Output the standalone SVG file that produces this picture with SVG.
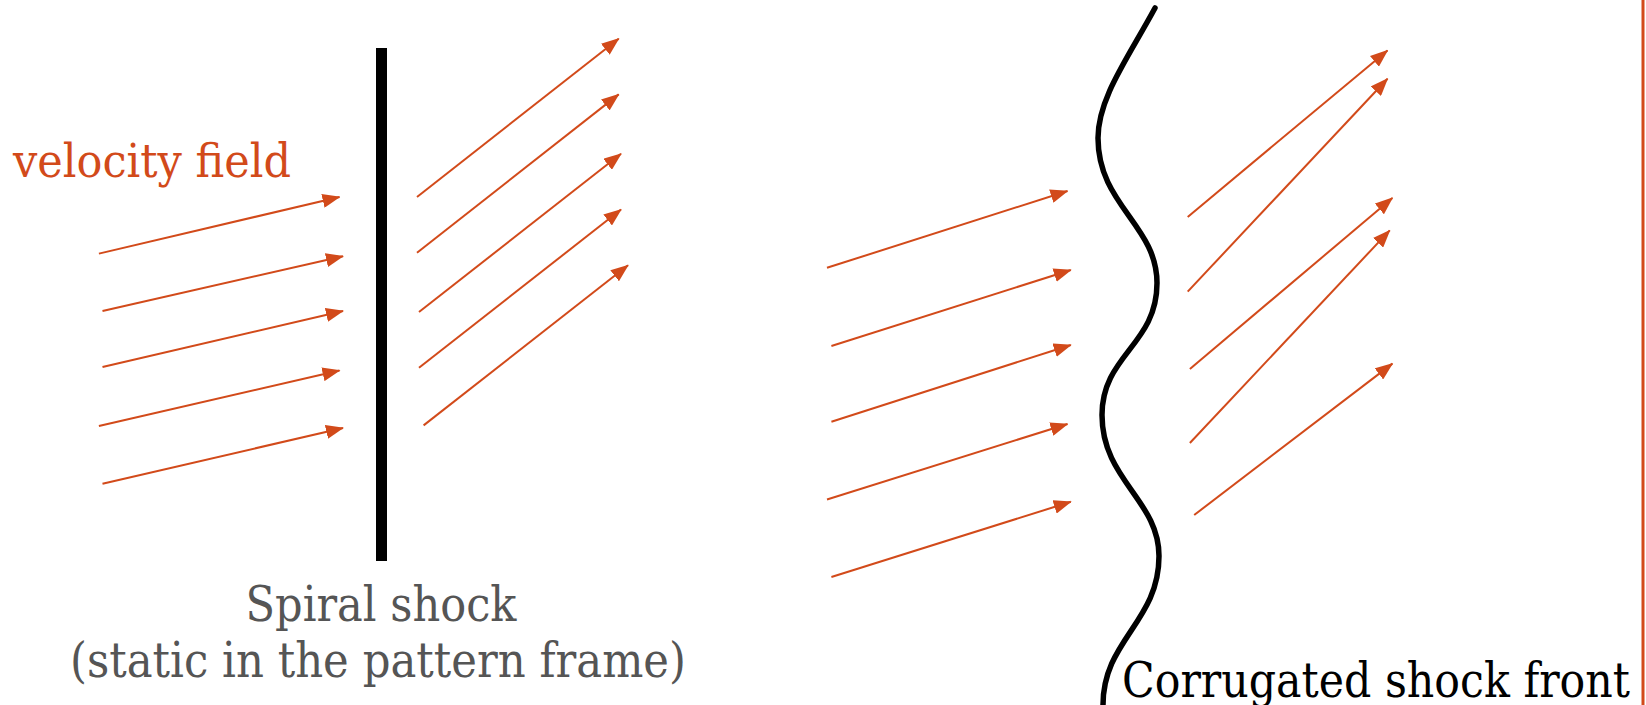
<svg xmlns="http://www.w3.org/2000/svg" width="1646" height="705" viewBox="0 0 1646 705">
<style>
.arr{stroke:#D24A1A;stroke-width:2;fill:none;marker-end:url(#ah)}
text{font-family:"DejaVu Serif","Liberation Serif",serif}
</style>
<defs>
<marker id="ah" markerUnits="userSpaceOnUse" markerWidth="18" markerHeight="14" refX="17" refY="7" orient="auto">
<path d="M0,0 L18,7 L0,14 z" fill="#D24A1A"/>
</marker>
</defs>
<rect width="1646" height="705" fill="#fff"/>
<rect x="1641.5" y="0" width="3" height="705" fill="#D24A1A"/>
<g id="label-velocity"><text x="13" y="177" font-size="46" fill="#D24A1A" textLength="278" lengthAdjust="spacingAndGlyphs">velocity field</text></g>
<g id="spiral-shock">
<rect x="376" y="48" width="11" height="513" fill="#000"/>
<text x="381" y="621" font-size="48" fill="#555" text-anchor="middle" textLength="271" lengthAdjust="spacingAndGlyphs">Spiral shock</text>
<text x="378" y="677" font-size="48" fill="#555" text-anchor="middle" textLength="616" lengthAdjust="spacingAndGlyphs">(static in the pattern frame)</text>
</g>
<g id="corrugated-shock">
<path d="M1155,8 C1128,58 1098,98 1098,138 C1098,205 1157,225 1157,283 C1157,345 1102,355 1102,415 C1102,480 1159,500 1159,556 C1159,622 1103,640 1103,705" fill="none" stroke="#000" stroke-width="5.5" stroke-linecap="round"/>
<text x="1122" y="697" font-size="48" fill="#000" textLength="508" lengthAdjust="spacingAndGlyphs">Corrugated shock front</text>
</g>
<g id="connectors">
<line class="arr" x1="98.9" y1="253.6" x2="339.5" y2="197"/>
<line class="arr" x1="102.5" y1="311" x2="343" y2="256.3"/>
<line class="arr" x1="102.5" y1="367" x2="343" y2="311"/>
<line class="arr" x1="98.9" y1="426" x2="339.5" y2="370.5"/>
<line class="arr" x1="102.5" y1="483.8" x2="343" y2="428"/>
<line class="arr" x1="417" y1="197" x2="618.7" y2="38.7"/>
<line class="arr" x1="417" y1="252.7" x2="618.7" y2="94.4"/>
<line class="arr" x1="419" y1="312" x2="621" y2="153.8"/>
<line class="arr" x1="419" y1="367.8" x2="621" y2="209.5"/>
<line class="arr" x1="423.6" y1="425.4" x2="628" y2="265.3"/>
<line class="arr" x1="827" y1="267.8" x2="1067.5" y2="191"/>
<line class="arr" x1="831.4" y1="346" x2="1070.8" y2="270"/>
<line class="arr" x1="831.4" y1="421.7" x2="1070.8" y2="345"/>
<line class="arr" x1="827" y1="499.5" x2="1067.5" y2="424"/>
<line class="arr" x1="831.4" y1="577" x2="1070.8" y2="501.8"/>
<line class="arr" x1="1187.7" y1="216.9" x2="1387.5" y2="50.4"/>
<line class="arr" x1="1187.7" y1="291.6" x2="1387.5" y2="78.8"/>
<line class="arr" x1="1189.9" y1="369" x2="1392.4" y2="198"/>
<line class="arr" x1="1189.9" y1="443" x2="1389.7" y2="230.4"/>
<line class="arr" x1="1194.2" y1="515" x2="1392.4" y2="363.6"/>
</g>
</svg>
